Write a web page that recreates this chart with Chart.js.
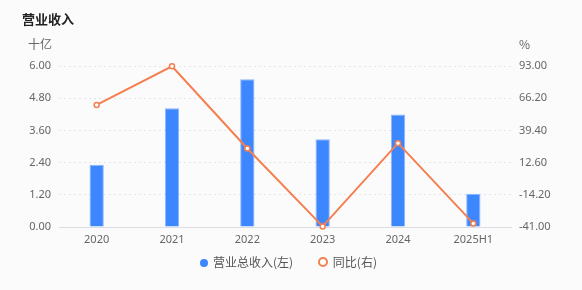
<!DOCTYPE html>
<html>
<head>
<meta charset="utf-8">
<script src="https://cdn.jsdelivr.net/npm/chart.js@4"></script>
<style>
  body { margin: 0; background: #fbfbfc; font-family: "Noto Sans CJK SC", "Noto Sans", sans-serif; }
  #wrap { position: relative; width: 582px; height: 290px; }
  #title { position: absolute; left: 22px; top: 9px; font-size: 13px; font-weight: bold; color: #222; }
  .unit { position: absolute; top: 35px; font-size: 12px; color: #666; }
  #legend { position: absolute; top: 253px; left: 200px; white-space: nowrap; font-size: 12px; color: #555; }
  #legend span.item { margin-right: 22px; }
  .dot { display: inline-block; width: 8px; height: 8px; border-radius: 50%; vertical-align: 0px; margin-right: 5px; }
</style>
</head>
<body>
<div id="wrap">
  <canvas id="chart" width="582" height="290"></canvas>
  <div id="title">营业收入</div>
  <div class="unit" style="left:28px">十亿</div>
  <div class="unit" style="left:519px">%</div>
  <div id="legend">
    <span class="item"><span class="dot" style="background:#3d87fe"></span>营业总收入(左)</span>
    <span class="item"><span class="dot" style="width:6px;height:6px;border:2px solid #f47f50;background:#fff"></span>同比(右)</span>
  </div>
</div>
<script>
var years = ["2020", "2021", "2022", "2023", "2024", "2025H1"];
var revenue = [2.32, 4.43, 5.51, 3.27, 4.19, 1.24];
var yoy = [60.6, 92.7, 24.3, -40.5, 28.8, -38.0];
var leftTicks = [0, 1.2, 2.4, 3.6, 4.8, 6.0];
var rightTicks = [-41, -14.2, 12.6, 39.4, 66.2, 93];

var tickFont = { family: "'Noto Sans', sans-serif", size: 11 };

new Chart(document.getElementById("chart"), {
    data: {
        labels: years,
        datasets: [{
            type: 'line',
            data: yoy,
            yAxisID: 'y1',
            borderColor: "#f47f50",
            borderWidth: 2,
            backgroundColor: "#fff",
            pointRadius: 2.5,
            pointBorderWidth: 1.5,
            pointBackgroundColor: "#fff",
            pointBorderColor: "#f47f50",
            tension: 0,
            clip: false,
            order: 0
        }, {
            type: 'bar',
            data: revenue,
            yAxisID: 'y',
            backgroundColor: "#3d87fe",
            borderColor: "#8cb6fd",
            borderWidth: { top: 1, left: 1, right: 1, bottom: 0 },
            barPercentage: 0.19,
            categoryPercentage: 1,
            order: 1
        }]
    },
    options: {
        responsive: false,
        animation: false,
        layout: { padding: { top: 66, bottom: 0, left: 0, right: 0 } },
        plugins: {
            legend: { display: false },
            tooltip: { enabled: false }
        },
        scales: {
            x: {
                grid: { display: false, drawTicks: false },
                border: { color: "#dcdde3" },
                ticks: { color: "#666", font: tickFont, padding: 6 },
                afterFit: function (s) { s.height = 63; }
            },
            y: {
                position: 'left',
                min: 0, max: 6,
                grid: { color: "#e6e6ea", drawTicks: false },
                border: { display: false, dash: [2, 3] },
                afterBuildTicks: function (s) { s.ticks = leftTicks.map(v => ({ value: v })); },
                ticks: { color: "#666", font: tickFont, padding: 8, callback: v => v.toFixed(2) },
                afterFit: function (s) { s.width = 59; }
            },
            y1: {
                position: 'right',
                min: -41, max: 93,
                grid: { display: false, drawTicks: false },
                border: { display: false },
                afterBuildTicks: function (s) { s.ticks = rightTicks.map(v => ({ value: v })); },
                ticks: { color: "#666", font: tickFont, padding: 8, callback: v => v.toFixed(2) },
                afterFit: function (s) { s.width = 71; }
            }
        }
    }
});
</script>
</body>
</html>
